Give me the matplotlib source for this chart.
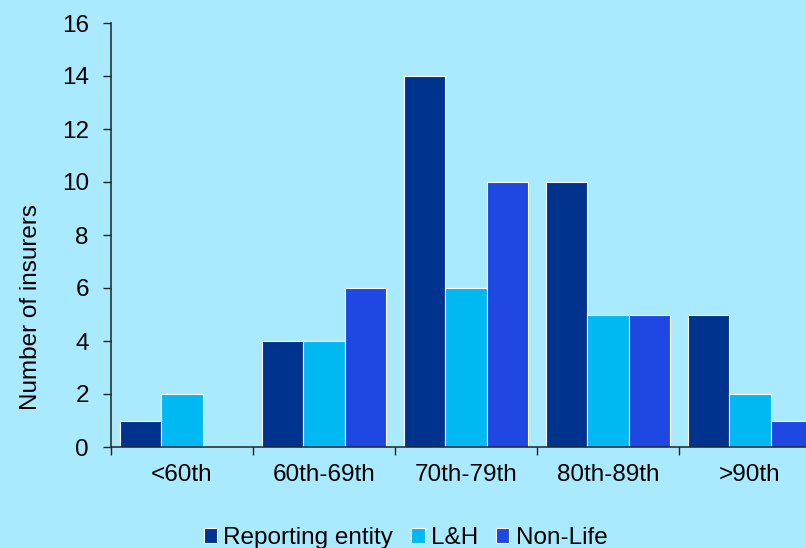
import numpy as np
import matplotlib
matplotlib.use('Agg')
import matplotlib.pyplot as plt

# === DATA ===
CATEGORIES = ['<60th', '60th-69th', '70th-79th', '80th-89th', '>90th']
REPORTING = [1, 4, 14, 10, 5]
LH = [2, 4, 6, 5, 2]
NON_LIFE = [0, 6, 10, 5, 1]
SERIES_NAMES = ['Reporting entity', 'L&H', 'Non-Life']
Y_TICKS = [0, 2, 4, 6, 8, 10, 12, 14, 16]

# === STYLE ===
BG = '#aaeaff'
COLORS = ['#00338d', '#00b8f2', '#1f47e2']
AXIS_COLOR = '#222222'
BAR_W = 0.292
FS = 17.5

plt.rcParams['font.family'] = ['Liberation Sans', 'DejaVu Sans']

fig = plt.figure(figsize=(8.06, 5.48), dpi=100, facecolor=BG)
ax = fig.add_axes([111 / 806, 101 / 548, 710 / 806, 424 / 548])
ax.set_facecolor(BG)

x = np.arange(len(CATEGORIES))
offsets = [-BAR_W, 0, BAR_W]
for vals, off, col, name in zip([REPORTING, LH, NON_LIFE], offsets, COLORS, SERIES_NAMES):
    ax.bar(x + off, vals, width=BAR_W, color=col, edgecolor='white',
           linewidth=0.8, label=name)

ax.set_xlim(-0.5, len(CATEGORIES) - 0.5)
ax.set_ylim(0, 16)
ax.set_yticks(Y_TICKS)

# category labels at centres, tick marks at group boundaries
ax.set_xticks(x)
ax.set_xticklabels(CATEGORIES)
ax.set_xticks(np.arange(len(CATEGORIES) + 1) - 0.5, minor=True)
ax.tick_params(axis='x', which='major', length=0, pad=12, labelsize=FS)
ax.tick_params(axis='x', which='minor', length=6, width=1, color=AXIS_COLOR, direction='out')
ax.tick_params(axis='y', length=6, width=1, color=AXIS_COLOR, direction='out', pad=10,
               labelsize=FS)

for s in ['top', 'right']:
    ax.spines[s].set_visible(False)
for s in ['left', 'bottom']:
    ax.spines[s].set_color(AXIS_COLOR)
    ax.spines[s].set_linewidth(1.1)

ax.set_ylabel('Number of insurers', fontsize=FS)
ax.yaxis.set_label_coords(-0.097, 0.33)

fig.legend(loc='center', bbox_to_anchor=(0.503, 10 / 548), ncol=3, frameon=False,
           fontsize=FS, handlelength=0.55, handleheight=0.55, handletextpad=0.25,
           columnspacing=0.75, borderaxespad=0)

fig.savefig('out.png', dpi=100, facecolor=BG)
